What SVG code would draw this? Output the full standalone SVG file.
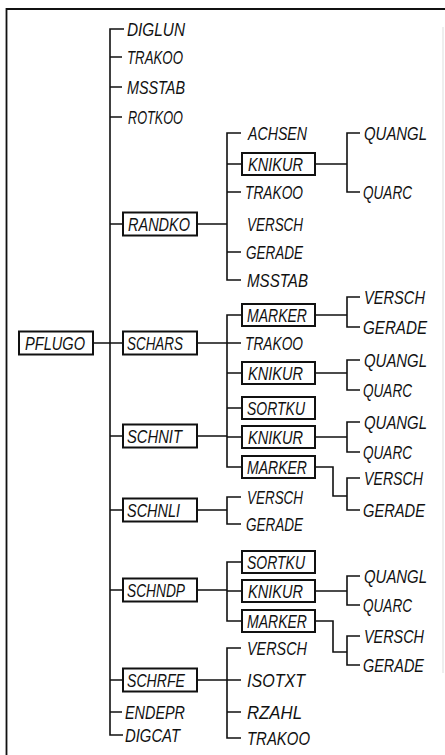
<svg xmlns="http://www.w3.org/2000/svg" width="445" height="755" viewBox="0 0 445 755">
<style>
text{font-family:"Liberation Sans","DejaVu Sans",sans-serif;font-style:italic;font-size:17.5px;fill:#111;}
.ln{fill:none;stroke:#111;stroke-width:1.6;}
.bx{fill:#fff;stroke:#111;stroke-width:2;}
.fr{fill:none;stroke:#111;stroke-width:1.8;}
</style>
<rect width="445" height="755" fill="#fff"/>
<g id="frame">
<path class="fr" d="M445,9 H6.5 V755"/>
<path d="M443,27 V673" stroke="#ddd" stroke-width="1" fill="none"/>
</g>
<g id="connectors">
<path class="ln" d="M124,29 H110 V735 H123"/>
<path class="ln" d="M110,57 H122 M110,87 H122 M110,117 H122 M110,224 H123 M93,343 H123 M110,436 H123 M110,510 H123 M110,590 H123 M110,680 H123 M110,712 H122"/>
<path class="ln" d="M197,224 H227 M241,133 H227 V280 H241 M227,164 H242 M227,192 H241 M227,252 H241"/>
<path class="ln" d="M315,164 H347 M360,133 H347 V192 H360"/>
<path class="ln" d="M197,343 H227 M197,436 H227 M242,315 H227 V467 H242 M227,343 H241 M227,373 H242 M227,408 H242 M227,437 H242"/>
<path class="ln" d="M315,315 H347 M360,297 H347 V327 H360"/>
<path class="ln" d="M315,373 H347 M360,360 H347 V390 H360"/>
<path class="ln" d="M315,437 H347 M360,422 H347 V452 H360"/>
<path class="ln" d="M315,467 H333 V496 H347 M360,478 H347 V510 H360"/>
<path class="ln" d="M197,510 H227 M241,497 H227 V524 H241"/>
<path class="ln" d="M197,590 H227 M242,562 H227 V621 H242 M227,591 H242"/>
<path class="ln" d="M315,591 H347 M360,576 H347 V605 H360"/>
<path class="ln" d="M315,621 H333 V652 H347 M360,636 H347 V665 H360"/>
<path class="ln" d="M197,680 H227 M241,648 H227 V738 H241 M227,680 H241 M227,712 H241"/>
</g>
<g id="n-pflugo"><rect class="bx" x="19" y="331.5" width="74" height="23"/><text x="25" y="349.5" textLength="60" lengthAdjust="spacingAndGlyphs">PFLUGO</text></g>
<g id="n-diglun"><text x="127" y="35.5" textLength="58" lengthAdjust="spacingAndGlyphs">DIGLUN</text></g>
<g id="n-trakoo1"><text x="127" y="63.5" textLength="56" lengthAdjust="spacingAndGlyphs">TRAKOO</text></g>
<g id="n-msstab1"><text x="127" y="93.5" textLength="58" lengthAdjust="spacingAndGlyphs">MSSTAB</text></g>
<g id="n-rotkoo"><text x="128" y="123.5" textLength="55" lengthAdjust="spacingAndGlyphs">ROTKOO</text></g>
<g id="n-randko"><rect class="bx" x="123" y="212.5" width="74" height="23"/><text x="128" y="230.5" textLength="62" lengthAdjust="spacingAndGlyphs">RANDKO</text></g>
<g id="n-schars"><rect class="bx" x="123" y="331.5" width="74" height="23"/><text x="127" y="349.5" textLength="56" lengthAdjust="spacingAndGlyphs">SCHARS</text></g>
<g id="n-schnit"><rect class="bx" x="123" y="424.5" width="74" height="23"/><text x="127" y="442.5" textLength="55" lengthAdjust="spacingAndGlyphs">SCHNIT</text></g>
<g id="n-schnli"><rect class="bx" x="123" y="498.5" width="74" height="23"/><text x="127" y="516.5" textLength="53" lengthAdjust="spacingAndGlyphs">SCHNLI</text></g>
<g id="n-schndp"><rect class="bx" x="123" y="578.5" width="74" height="23"/><text x="127" y="596.5" textLength="58" lengthAdjust="spacingAndGlyphs">SCHNDP</text></g>
<g id="n-schrfe"><rect class="bx" x="123" y="668.5" width="74" height="23"/><text x="127" y="686.5" textLength="58" lengthAdjust="spacingAndGlyphs">SCHRFE</text></g>
<g id="n-endepr"><text x="125" y="718.5" textLength="60" lengthAdjust="spacingAndGlyphs">ENDEPR</text></g>
<g id="n-digcat"><text x="125" y="741.5" textLength="55" lengthAdjust="spacingAndGlyphs">DIGCAT</text></g>
<g id="n-achsen"><text x="248" y="139.5" textLength="59" lengthAdjust="spacingAndGlyphs">ACHSEN</text></g>
<g id="n-knikur1"><rect class="bx" x="242" y="153" width="73" height="22"/><text x="248" y="170.5" textLength="55" lengthAdjust="spacingAndGlyphs">KNIKUR</text></g>
<g id="n-trakoo2"><text x="245" y="198.5" textLength="58" lengthAdjust="spacingAndGlyphs">TRAKOO</text></g>
<g id="n-versch1"><text x="247" y="230.5" textLength="56" lengthAdjust="spacingAndGlyphs">VERSCH</text></g>
<g id="n-gerade1"><text x="246" y="258.5" textLength="57" lengthAdjust="spacingAndGlyphs">GERADE</text></g>
<g id="n-msstab2"><text x="247" y="286.5" textLength="61" lengthAdjust="spacingAndGlyphs">MSSTAB</text></g>
<g id="n-quangl1"><text x="364" y="139.5" textLength="63" lengthAdjust="spacingAndGlyphs">QUANGL</text></g>
<g id="n-quarc1"><text x="363" y="198.5" textLength="49" lengthAdjust="spacingAndGlyphs">QUARC</text></g>
<g id="n-marker1"><rect class="bx" x="242" y="304" width="73" height="22"/><text x="247" y="321.5" textLength="60" lengthAdjust="spacingAndGlyphs">MARKER</text></g>
<g id="n-trakoo3"><text x="245" y="349.5" textLength="58" lengthAdjust="spacingAndGlyphs">TRAKOO</text></g>
<g id="n-knikur2"><rect class="bx" x="242" y="362" width="73" height="22"/><text x="248" y="379.5" textLength="55" lengthAdjust="spacingAndGlyphs">KNIKUR</text></g>
<g id="n-sortku1"><rect class="bx" x="242" y="397" width="73" height="22"/><text x="247" y="414.5" textLength="58" lengthAdjust="spacingAndGlyphs">SORTKU</text></g>
<g id="n-knikur3"><rect class="bx" x="242" y="426" width="73" height="22"/><text x="248" y="443.5" textLength="55" lengthAdjust="spacingAndGlyphs">KNIKUR</text></g>
<g id="n-marker2"><rect class="bx" x="242" y="456" width="73" height="22"/><text x="247" y="473.5" textLength="60" lengthAdjust="spacingAndGlyphs">MARKER</text></g>
<g id="n-versch2"><text x="364" y="303.5" textLength="61" lengthAdjust="spacingAndGlyphs">VERSCH</text></g>
<g id="n-gerade2"><text x="363" y="333.5" textLength="64" lengthAdjust="spacingAndGlyphs">GERADE</text></g>
<g id="n-quangl2"><text x="364" y="366.5" textLength="63" lengthAdjust="spacingAndGlyphs">QUANGL</text></g>
<g id="n-quarc2"><text x="363" y="396.5" textLength="49" lengthAdjust="spacingAndGlyphs">QUARC</text></g>
<g id="n-quangl3"><text x="364" y="428.5" textLength="63" lengthAdjust="spacingAndGlyphs">QUANGL</text></g>
<g id="n-quarc3"><text x="363" y="458.5" textLength="49" lengthAdjust="spacingAndGlyphs">QUARC</text></g>
<g id="n-versch3"><text x="364" y="484.5" textLength="59" lengthAdjust="spacingAndGlyphs">VERSCH</text></g>
<g id="n-gerade3"><text x="363" y="516.5" textLength="62" lengthAdjust="spacingAndGlyphs">GERADE</text></g>
<g id="n-versch4"><text x="247" y="503.5" textLength="56" lengthAdjust="spacingAndGlyphs">VERSCH</text></g>
<g id="n-gerade4"><text x="246" y="530.5" textLength="57" lengthAdjust="spacingAndGlyphs">GERADE</text></g>
<g id="n-sortku2"><rect class="bx" x="242" y="551" width="73" height="22"/><text x="247" y="568.5" textLength="58" lengthAdjust="spacingAndGlyphs">SORTKU</text></g>
<g id="n-knikur4"><rect class="bx" x="242" y="580" width="73" height="22"/><text x="248" y="597.5" textLength="55" lengthAdjust="spacingAndGlyphs">KNIKUR</text></g>
<g id="n-marker3"><rect class="bx" x="242" y="610" width="73" height="22"/><text x="247" y="627.5" textLength="60" lengthAdjust="spacingAndGlyphs">MARKER</text></g>
<g id="n-quangl4"><text x="364" y="582.5" textLength="63" lengthAdjust="spacingAndGlyphs">QUANGL</text></g>
<g id="n-quarc4"><text x="363" y="611.5" textLength="49" lengthAdjust="spacingAndGlyphs">QUARC</text></g>
<g id="n-versch5"><text x="364" y="642.5" textLength="60" lengthAdjust="spacingAndGlyphs">VERSCH</text></g>
<g id="n-gerade5"><text x="363" y="671.5" textLength="61" lengthAdjust="spacingAndGlyphs">GERADE</text></g>
<g id="n-versch6"><text x="247" y="654.5" textLength="60" lengthAdjust="spacingAndGlyphs">VERSCH</text></g>
<g id="n-isotxt"><text x="247" y="686.5" textLength="58" lengthAdjust="spacingAndGlyphs">ISOTXT</text></g>
<g id="n-rzahl"><text x="247" y="718.5" textLength="55" lengthAdjust="spacingAndGlyphs">RZAHL</text></g>
<g id="n-trakoo4"><text x="247" y="744.5" textLength="63" lengthAdjust="spacingAndGlyphs">TRAKOO</text></g>
</svg>
